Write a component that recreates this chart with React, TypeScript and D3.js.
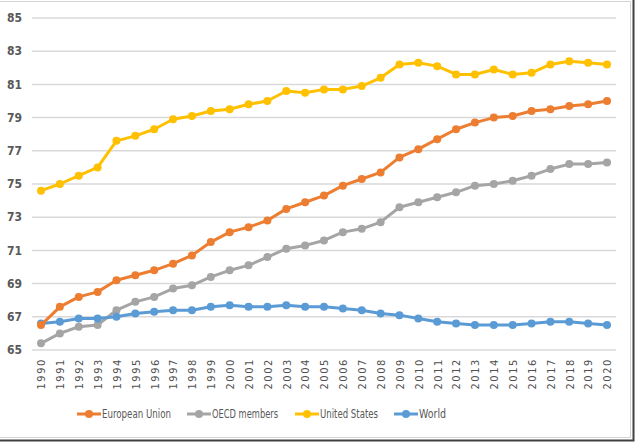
import * as d3 from 'd3';
import { useEffect, useRef } from 'react';

const years = d3.range(1990, 2021);

const euValues = [
    66.5, 67.6, 68.2, 68.5, 69.2, 69.5, 69.8, 70.2, 70.7, 71.5,
    72.1, 72.4, 72.8, 73.5, 73.9, 74.3, 74.9, 75.3, 75.7, 76.6,
    77.1, 77.7, 78.3, 78.7, 79.0, 79.1, 79.4, 79.5, 79.7, 79.8, 80.0
];
const oecdValues = [
    65.4, 66.0, 66.4, 66.5, 67.4, 67.9, 68.2, 68.7, 68.9, 69.4,
    69.8, 70.1, 70.6, 71.1, 71.3, 71.6, 72.1, 72.3, 72.7, 73.6,
    73.9, 74.2, 74.5, 74.9, 75.0, 75.2, 75.5, 75.9, 76.2, 76.2, 76.3
];
const usValues = [
    74.6, 75.0, 75.5, 76.0, 77.6, 77.9, 78.3, 78.9, 79.1, 79.4,
    79.5, 79.8, 80.0, 80.6, 80.5, 80.7, 80.7, 80.9, 81.4, 82.2,
    82.3, 82.1, 81.6, 81.6, 81.9, 81.6, 81.7, 82.2, 82.4, 82.3, 82.2
];
const worldValues = [
    66.6, 66.7, 66.9, 66.9, 67.0, 67.2, 67.3, 67.4, 67.4, 67.6,
    67.7, 67.6, 67.6, 67.7, 67.6, 67.6, 67.5, 67.4, 67.2, 67.1,
    66.9, 66.7, 66.6, 66.5, 66.5, 66.5, 66.6, 66.7, 66.7, 66.6, 66.5
];

const yTicks = [65, 67, 69, 71, 73, 75, 77, 79, 81, 83, 85];

const seriesNames = ["European Union", "OECD members", "United States", "World"];
const seriesColors = ["#ed7d31", "#a5a5a5", "#ffc000", "#5b9bd5"];
const seriesValues = [euValues, oecdValues, usValues, worldValues];
// drawn back to front so the orange line sits on top
const drawOrder = [1, 3, 2, 0];

// legend entry start positions and label widths (narrow Calibri-like look)
const legendX = [77, 187, 295, 394];
const legendTextWidth = [69, 66, 58, 27];

const App = () => {
    const ref = useRef<SVGSVGElement>(null);

    useEffect(() => {
        const width = 635;
        const height = 442;
        const svg = d3.select(ref.current);
        svg.selectAll("*").remove();

        const font = "'Liberation Sans Narrow', 'DejaVu Sans Condensed', 'Liberation Sans', sans-serif";

        svg.append("rect").attr("width", width).attr("height", height).attr("fill", "#fff");

        // frame
        svg.append("path")
            .attr("d", "M0,1.5H630.5V437.5H0")
            .attr("fill", "none").attr("stroke", "#d4d4d4").attr("stroke-width", 1);
        svg.append("path")
            .attr("d", "M633.5,0V440.5H0")
            .attr("fill", "none").attr("stroke", "#404040").attr("stroke-width", 2);

        const x = d3.scalePoint<number>().domain(years).range([41, 607]);
        const y = d3.scaleLinear().domain([65, 85]).range([350, 18]);

        // gridlines
        svg.append("g")
            .selectAll("line")
            .data(yTicks)
            .join("line")
            .attr("x1", 32).attr("x2", 616)
            .attr("y1", d => y(d)).attr("y2", d => y(d))
            .attr("stroke", "#d9d9d9").attr("stroke-width", 1.5);

        // y labels
        svg.append("g")
            .selectAll("text")
            .data(yTicks)
            .join("text")
            .attr("x", 22).attr("y", d => y(d))
            .attr("dy", "0.35em")
            .attr("text-anchor", "end")
            .attr("font-family", font)
            .attr("font-weight", "bold")
            .attr("font-size", 12)
            .attr("fill", "#595959")
            .text(d => d);

        // x labels, rotated
        svg.append("g")
            .selectAll("text")
            .data(years)
            .join("text")
            .attr("transform", d => `translate(${x(d)! + 0.5},358) rotate(-90)`)
            .attr("dy", "0.35em")
            .attr("text-anchor", "end")
            .attr("font-family", font)
            .attr("font-size", 11)
            .attr("letter-spacing", 1.6)
            .attr("fill", "#505050")
            .text(d => d);

        const line = d3.line<number>()
            .x((_, i) => x(years[i])!)
            .y(d => y(d));

        drawOrder.forEach(k => {
            const g = svg.append("g");
            g.append("path")
                .datum(seriesValues[k])
                .attr("fill", "none")
                .attr("stroke", seriesColors[k])
                .attr("stroke-width", 3)
                .attr("stroke-linejoin", "round")
                .attr("d", line);
            g.selectAll("circle")
                .data(seriesValues[k])
                .join("circle")
                .attr("cx", (_, i) => x(years[i])!)
                .attr("cy", d => y(d))
                .attr("r", 4)
                .attr("fill", seriesColors[k]);
        });

        // legend
        const legend = svg.append("g").attr("transform", "translate(0,414)");
        seriesNames.forEach((name, i) => {
            const lx = legendX[i];
            legend.append("line")
                .attr("x1", lx).attr("x2", lx + 24)
                .attr("stroke", seriesColors[i]).attr("stroke-width", 3);
            legend.append("circle")
                .attr("cx", lx + 12).attr("r", 4)
                .attr("fill", seriesColors[i]);
            legend.append("text")
                .attr("x", lx + 25)
                .attr("dy", "0.35em")
                .attr("font-family", font)
                .attr("font-size", 12.5)
                .attr("textLength", legendTextWidth[i])
                .attr("lengthAdjust", "spacingAndGlyphs")
                .attr("fill", "#595959")
                .text(name);
        });
    }, []);

    return (
        <svg
            ref={ref}
            width={635}
            height={442}
            style={{ position: "absolute", left: 0, top: 0, display: "block" }}
        />
    );
};

export default App;
